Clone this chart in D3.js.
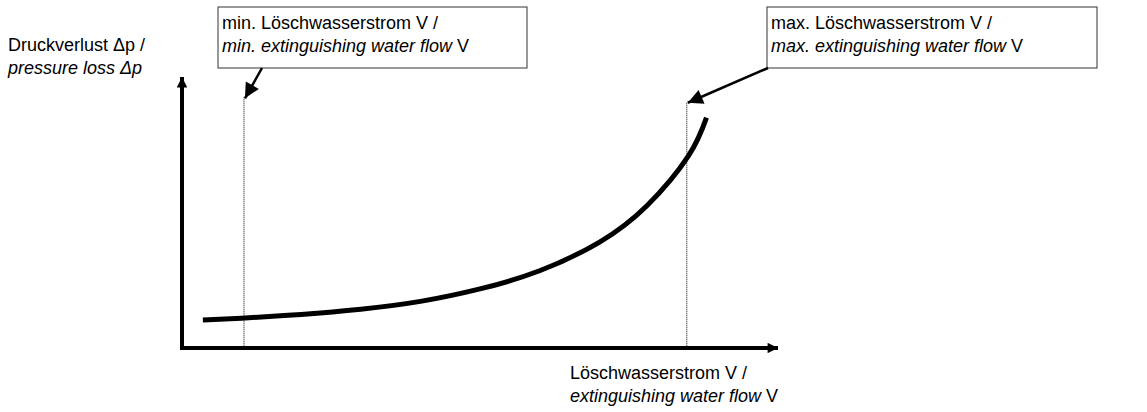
<!DOCTYPE html>
<html>
<head>
<meta charset="utf-8">
<script src="https://cdn.jsdelivr.net/npm/d3@7"></script>
<style>
    body { margin: 0; background: #fff; }
    svg text { font-family: "Liberation Sans", Arial, sans-serif; font-size: 18px; fill: #000; }
</style>
</head>
<body>
<div id="chart"></div>
<script>
// curve data (arbitrary units, 0..100 on both axes)
const flowValues = [3.5, 10, 20, 30, 40, 50, 60, 70, 78, 85, 88];
const pressureValues = [10.3, 11, 12.4, 14.3, 17.2, 21.8, 28.5, 39, 52.5, 71, 85];
const minFlow = 10.4;
const maxFlow = 84.7;
const markerTops = [92.5, 90.5];

const yLabel = ['Druckverlust \u0394p /', 'pressure loss \u0394p'];
const xLabel = ['L\u00f6schwasserstrom V /', 'extinguishing water flow'];
const minLabel = ['min. L\u00f6schwasserstrom V /', 'min. extinguishing water flow'];
const maxLabel = ['max. L\u00f6schwasserstrom V /', 'max. extinguishing water flow'];

const width = 1147, height = 412;
const svg = d3.select('#chart').append('svg')
    .attr('width', width)
    .attr('height', height);

const x = d3.scaleLinear().domain([0, 100]).range([182, 778]);
const y = d3.scaleLinear().domain([0, 100]).range([348, 77]);

const defs = svg.append('defs');
defs.append('marker')
    .attr('id', 'axisHead')
    .attr('viewBox', '0 0 10 10')
    .attr('refX', 10).attr('refY', 5)
    .attr('markerWidth', 3).attr('markerHeight', 2.6)
    .attr('markerUnits', 'strokeWidth')
    .attr('orient', 'auto')
    .append('path').attr('d', 'M0,0 L10,5 L0,10 Z').attr('fill', '#000');
defs.append('marker')
    .attr('id', 'noteHead')
    .attr('viewBox', '0 0 10 10')
    .attr('refX', 10).attr('refY', 5)
    .attr('markerWidth', 7).attr('markerHeight', 6)
    .attr('markerUnits', 'strokeWidth')
    .attr('orient', 'auto')
    .append('path').attr('d', 'M0,0 L10,5 L0,10 Z').attr('fill', '#000');

// dotted min / max lines
[minFlow, maxFlow].forEach((v, i) => {
    svg.append('line')
        .attr('x1', x(v)).attr('x2', x(v))
        .attr('y1', y(markerTops[i])).attr('y2', y(0))
        .attr('stroke', '#000')
        .attr('stroke-width', 1)
        .attr('stroke-dasharray', '1,1');
});

// axes
svg.append('line')
    .attr('x1', x(0)).attr('y1', y(0) + 2)
    .attr('x2', x(0)).attr('y2', y(100))
    .attr('stroke', '#000').attr('stroke-width', 4)
    .attr('marker-end', 'url(#axisHead)');
svg.append('line')
    .attr('x1', x(0) - 2).attr('y1', y(0))
    .attr('x2', x(100)).attr('y2', y(0))
    .attr('stroke', '#000').attr('stroke-width', 4)
    .attr('marker-end', 'url(#axisHead)');

// curve
const line = d3.line()
    .x((d, i) => x(flowValues[i]))
    .y(d => y(d))
    .curve(d3.curveNatural);
svg.append('path')
    .datum(pressureValues)
    .attr('d', line)
    .attr('fill', 'none')
    .attr('stroke', '#000')
    .attr('stroke-width', 5);

function twoLines(lines, tx, ty, lh, vSuffix) {
    svg.append('text').attr('x', tx).attr('y', ty).text(lines[0]);
    const t2 = svg.append('text').attr('x', tx).attr('y', ty + lh);
    t2.append('tspan').attr('font-style', 'italic').text(lines[1]);
    if (vSuffix) t2.append('tspan').text(' V');
}

// axis labels
twoLines(yLabel, 8, 51, 23, false);
twoLines(xLabel, 570, 379, 23, true);

// annotation boxes
function noteBox(lines, bx, bw, ax1, ay1, ax2, ay2) {
    svg.append('rect')
        .attr('x', bx).attr('y', 7)
        .attr('width', bw).attr('height', 61)
        .attr('fill', '#fff')
        .attr('stroke', '#333').attr('stroke-width', 1);
    twoLines(lines, bx + 4, 29, 23, true);
    svg.append('line')
        .attr('x1', ax1).attr('y1', ay1)
        .attr('x2', ax2).attr('y2', ay2)
        .attr('stroke', '#000').attr('stroke-width', 2.5)
        .attr('marker-end', 'url(#noteHead)');
}
noteBox(minLabel, 218, 309, 262, 68, x(minFlow) + 1, y(markerTops[0]) + 1);
noteBox(maxLabel, 767, 330, 768, 68, x(maxFlow) + 1, y(markerTops[1]));
</script>
</body>
</html>
